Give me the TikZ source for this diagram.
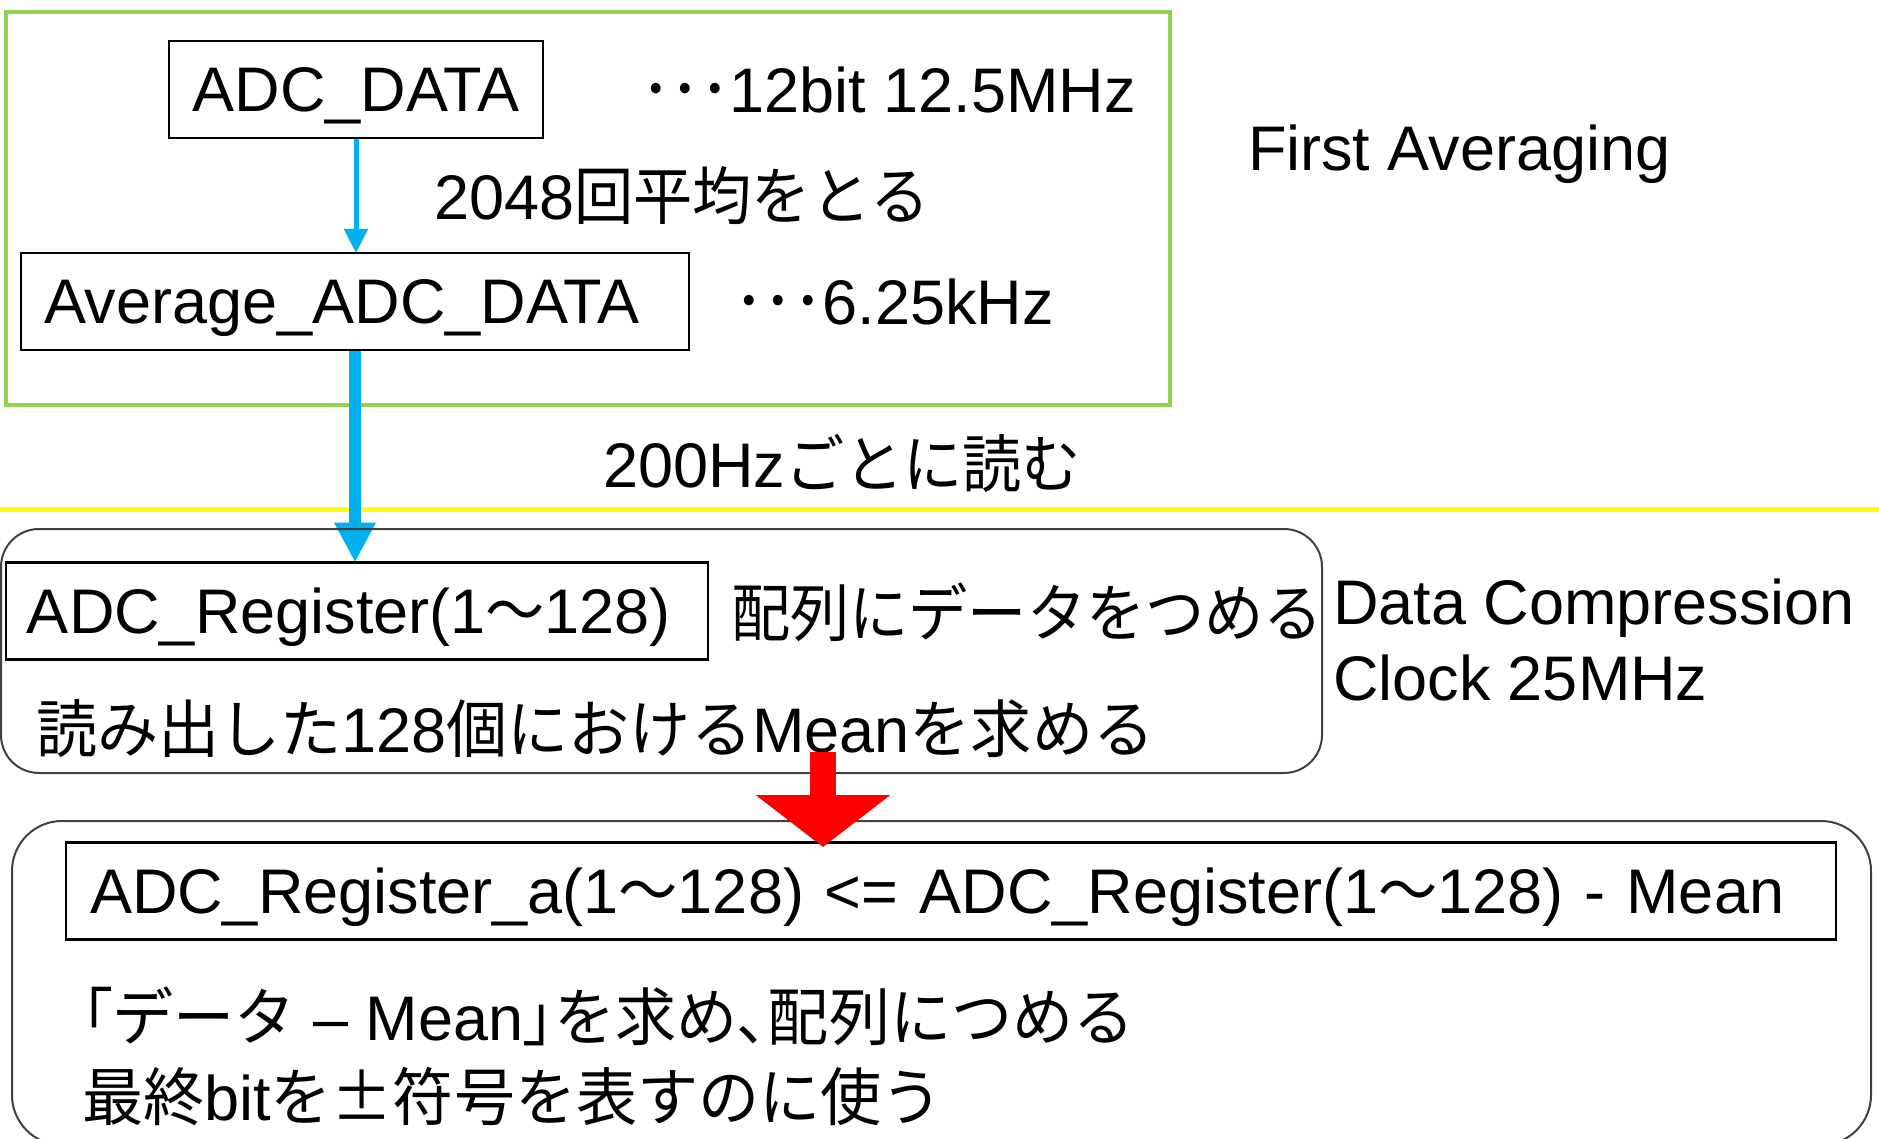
\documentclass[tikz,border=0pt]{standalone}
\usepackage{fontspec}
\setmainfont{Liberation Sans}
\newfontfamily\cjkfont{Noto Sans CJK JP}[FakeStretch=0.94]
\newfontfamily\cjkwfont{Noto Sans CJK JP}[FakeStretch=0.97]
\newfontfamily\cjkpfont{Noto Sans CJK JP}[FakeStretch=0.97,RawFeature=+palt]
\newcommand{\jp}[1]{{\cjkfont #1}}
\newcommand{\jpw}[1]{{\cjkwfont #1}}
\newcommand{\jpp}[1]{{\cjkpfont #1}}
\usetikzlibrary{arrows.meta}
\pgfdeclarelayer{bg}
\pgfsetlayers{bg,main}
\definecolor{grn}{HTML}{92D050}
\definecolor{ylw}{HTML}{FFFF00}
\definecolor{blu}{HTML}{00B0F0}
\definecolor{rd}{HTML}{FF0000}
\definecolor{framegray}{HTML}{404040}
\begin{document}
\begin{tikzpicture}[x=1pt,y=-1pt,
  every node/.style={font=\fontsize{63}{75}\selectfont, inner sep=0pt, outer sep=0pt},
  lbl/.style={anchor=base west},
  databox/.style={draw=black, line width=2.5pt, minimum height=97pt, text height=45pt, text depth=0pt},
  groupbox/.style={draw=framegray, line width=2pt},
  bluethin/.style={draw=blu, line width=5pt, -{Triangle[width=23pt,length=24pt]}},
  bluethick/.style={draw=blu, line width=12pt, -{Triangle[width=39pt,length=40pt]}},
  redblock/.style={draw=rd, line width=26pt, -{Triangle[width=132pt,length=52pt]}},
  sepline/.style={draw=ylw, line width=5pt}
]
\useasboundingbox (0,0) rectangle (1879,1139);
\clip (0,0) rectangle (1879,1139);

% First averaging stage
\node[databox, minimum width=374pt] (adc) at (356,89.5) {ADC\_DATA};
\node[lbl] (adcnote) at (641,113) {\jp{･･･}12bit 12.5MHz};
\node[lbl] (avgnote) at (434,220) {2048\jp{回平均をとる}};
\node[databox, align=left, text width=622pt, inner xsep=23pt] (avg) at (355,301.5) {Average\_ADC\_DATA};
\node[lbl] (avgrate) at (734,325) {\jp{･･･}6.25kHz};
\node[lbl] (first) at (1248,171) {First Averaging};
\node[lbl] (read) at (603,487) {200Hz\jp{ごとに読む}};

% Data compression stage
\node[groupbox, rounded corners=38pt, minimum width=1321pt, minimum height=244pt] (grp2) at (661.5,651) {};
\node[databox, align=left, text width=660pt, inner xsep=21pt] (reg) at (357,611) {ADC\_Register(1\jp{～}128)};
\node[lbl] (fill) at (731,636) {\jp{配列にデータをつめる}};
\node[lbl] (mean) at (36,752) {\jpw{読み出した}128\jpw{個における}Mean\jpw{を求める}};
\node[lbl] (dc1) at (1333,624) {Data Compression};
\node[lbl] (dc2) at (1333,700) {Clock 25MHz};

\node[groupbox, rounded corners=50pt, minimum width=1859pt, minimum height=324pt] (grp3) at (941.5,983) {};
\node[databox, align=left, text width=1722pt, inner xsep=24pt] (sub) at (951,891) {ADC\_Register\_a(1\jp{～}128) <= ADC\_Register(1\jp{～}128) - Mean};
\node[lbl] (note1) at (82,1040) {\jpp{「}\jpw{データ} – Mean\jpp{」}\jpw{を求め}\jpp{、}\jpw{配列につめる}};
\node[lbl] (note2) at (82,1120) {\jpw{最終}bit\jpw{を±符号を表すのに使う}};

\begin{pgfonlayer}{bg}
  \coordinate (yl) at (0,509);
  \coordinate (yr) at (1879,509);
  \draw[sepline] (yl) -- (yr);
  \node[draw=grn, line width=4pt, minimum width=1164pt, minimum height=393pt] (grp1) at (588,208.5) {};
  \draw[bluethin] (adc.south) -- (adc.south |- avg.north);
  \draw[bluethick] (avg.south) -- (avg.south |- reg.north);
\end{pgfonlayer}

\coordinate (redtop) at (823,752);
\coordinate (redtip) at (823,847);
\draw[redblock] (redtop) -- (redtip);
\end{tikzpicture}
\end{document}
